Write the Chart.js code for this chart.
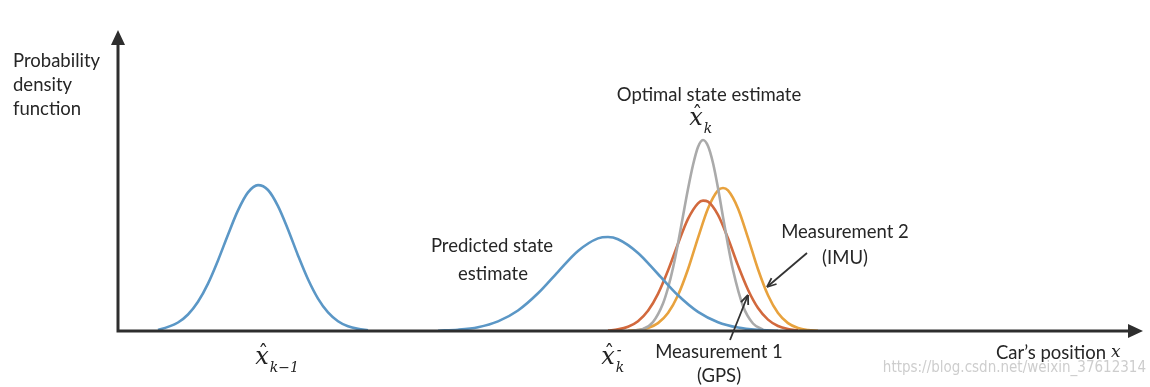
<!DOCTYPE html>
<html>
<head>
<meta charset="utf-8">
<script src="https://cdn.jsdelivr.net/npm/chart.js@4/dist/chart.umd.min.js"></script>
<style>
  body { margin: 0; background: #fff; }
  #wrap { width: 1150px; height: 387px; }
</style>
</head>
<body>
<div id="wrap"><canvas id="myChart"></canvas></div>
<script>
// samples: x = car position, y = probability density
const prevX   = [4, 5, 6, 7, 8, 9, 10, 11, 12, 13, 14, 15, 16, 17, 18, 19, 20, 21, 22, 23, 24, 25];
const prevPdf = [0.1, 0.41, 0.85, 1.65, 2.92, 4.74, 7.06, 9.63, 12.06, 13.86, 14.59, 14.1, 12.49, 10.15, 7.56, 5.17, 3.24, 1.86, 0.98, 0.47, 0.21, 0.08];

const predX   = [32, 34, 36, 38, 40, 42, 44, 46, 48, 49, 50, 52, 54, 56, 58, 60, 62, 64, 66];
const predPdf = [0.03, 0.13, 0.38, 0.96, 2.05, 3.77, 5.92, 8.0, 9.26, 9.4, 9.18, 7.81, 5.7, 3.57, 1.91, 0.88, 0.35, 0.12, 0.03];

const optX   = [51.5, 52.5, 53.5, 54.5, 55, 55.5, 56, 56.5, 57, 57.5, 58, 58.5, 59, 59.5, 60, 60.5, 61, 61.5, 62.5, 63.5, 64.5];
const optPdf = [0.03, 0.2, 0.9, 2.75, 4.3, 6.3, 8.75, 11.5, 14.2, 16.6, 18.4, 19.1, 18.5, 16.8, 14.3, 11.4, 8.6, 6.1, 2.5, 0.75, 0.15];

const gpsX   = [49, 50, 51, 52, 53, 54, 55, 56, 57, 58, 58.5, 59, 60, 61, 62, 63, 64, 65, 66, 67, 68];
const gpsPdf = [0.05, 0.16, 0.42, 0.98, 2.02, 3.71, 6.04, 8.73, 11.21, 12.77, 13.04, 12.93, 11.61, 9.27, 6.56, 4.13, 2.3, 1.14, 0.5, 0.2, 0.07];

const imuX   = [51, 52, 53, 54, 55, 56, 57, 58, 59, 60, 60.5, 61, 62, 63, 64, 65, 66, 67, 68, 69, 70];
const imuPdf = [0.03, 0.1, 0.3, 0.79, 1.8, 3.57, 6.17, 9.31, 12.26, 14.06, 14.3, 14.06, 12.26, 9.31, 6.17, 3.57, 1.8, 0.79, 0.3, 0.1, 0.03];

const curveNames  = ['Previous estimate', 'Predicted state estimate', 'Optimal state estimate', 'Measurement 1 (GPS)', 'Measurement 2 (IMU)'];
const curveColors = ['#5b97c6', '#5b97c6', '#aaaaaa', '#d2693d', '#e8a23d'];

const textColor = '#262626';
const axisColor = '#2e2e2e';
const labelFont = '18.5px Lato, "Open Sans", sans-serif';

function pts(xs, ys) {
  return xs.map((v, i) => ({ x: v, y: ys[i] }));
}

const series = [
  pts(prevX, prevPdf), pts(predX, predPdf), pts(optX, optPdf), pts(gpsX, gpsPdf), pts(imuX, imuPdf)
];

// x-hat with sub/superscript, drawn as text
function hatX(ctx, cx, cy, sub, sup) {
  ctx.fillStyle = '#222';
  ctx.textAlign = 'left';
  ctx.textBaseline = 'alphabetic';
  ctx.font = 'italic 24px "DejaVu Serif", serif';
  const w = ctx.measureText('x').width;
  const x0 = cx - w / 2 - 4;
  ctx.fillText('x', x0, cy);
  ctx.font = '20px "DejaVu Serif", serif';
  ctx.fillText('ˆ', x0 + 3, cy - 4);
  ctx.font = 'italic 14px "DejaVu Serif", serif';
  if (sub) ctx.fillText(sub, x0 + w + 1, cy + 8);
  if (sup) ctx.fillText(sup, x0 + w + 2, cy - 9);
}

const sketch = {
  id: 'sketch',
  afterDraw(chart) {
    const { ctx, chartArea: a, scales: { x, y } } = chart;
    const px = v => x.getPixelForValue(v);
    const py = v => y.getPixelForValue(v);
    ctx.save();

    // axes with arrowheads
    ctx.strokeStyle = axisColor;
    ctx.fillStyle = axisColor;
    ctx.lineWidth = 3;
    ctx.beginPath();
    ctx.moveTo(a.left, a.top + 12);
    ctx.lineTo(a.left, a.bottom);
    ctx.lineTo(a.right - 8, a.bottom);
    ctx.stroke();
    ctx.beginPath();
    ctx.moveTo(a.left, a.top);
    ctx.lineTo(a.left - 7, a.top + 15);
    ctx.lineTo(a.left + 7, a.top + 15);
    ctx.closePath();
    ctx.fill();
    ctx.beginPath();
    ctx.moveTo(a.right + 3, a.bottom);
    ctx.lineTo(a.right - 12, a.bottom - 7);
    ctx.lineTo(a.right - 12, a.bottom + 7);
    ctx.closePath();
    ctx.fill();

    // text labels
    ctx.fillStyle = textColor;
    ctx.font = labelFont;
    ctx.textBaseline = 'middle';
    ctx.textAlign = 'left';
    ['Probability', 'density', 'function'].forEach((t, i) => ctx.fillText(t, 13, 61 + i * 24));

    ctx.textAlign = 'center';
    ctx.fillText('Optimal state estimate', px(59.1), py(23.6));
    ctx.fillText('Predicted state', px(49.3 - 11.9), py(8.5));
    ctx.fillText('estimate', px(37.5), py(5.7));
    ctx.fillText('Measurement 2', px(72.7), py(9.9));
    ctx.fillText('(IMU)', px(72.7), py(7.3));
    ctx.fillText('Measurement 1', px(60.1), py(-2.1));
    ctx.fillText('(GPS)', px(60.1), py(-4.5));

    ctx.textAlign = 'right';
    ctx.fillText('Car\u2019s position', px(98.8), py(-2.2));
    ctx.font = 'italic 17px "DejaVu Serif", serif';
    ctx.textAlign = 'left';
    ctx.fillText('x', px(99.3), py(-2.2));

    // pointer arrows
    ctx.strokeStyle = '#333';
    ctx.lineWidth = 1.8;
    [[68.9, 7.8, 64.9, 4.4], [61.2, -0.9, 63.0, 3.6]].forEach(([x1, y1, x2, y2]) => {
      const X1 = px(x1), Y1 = py(y1), X2 = px(x2), Y2 = py(y2);
      const ang = Math.atan2(Y2 - Y1, X2 - X1);
      ctx.beginPath();
      ctx.moveTo(X1, Y1);
      ctx.lineTo(X2, Y2);
      ctx.stroke();
      ctx.beginPath();
      ctx.moveTo(X2, Y2);
      ctx.lineTo(X2 - 10 * Math.cos(ang - 0.4), Y2 - 10 * Math.sin(ang - 0.4));
      ctx.moveTo(X2, Y2);
      ctx.lineTo(X2 - 10 * Math.cos(ang + 0.4), Y2 - 10 * Math.sin(ang + 0.4));
      ctx.stroke();
    });

    // estimate symbols
    hatX(ctx, px(14.8), py(-3.3), 'k\u22121', null);
    hatX(ctx, px(49.4), py(-3.3), 'k', '-');
    hatX(ctx, px(58.2), py(20.6), 'k', null);

    // watermark
    ctx.fillStyle = 'rgba(200,200,200,0.9)';
    ctx.font = '15px "Liberation Sans Narrow", "DejaVu Sans Condensed", sans-serif';
    ctx.textAlign = 'right';
    ctx.textBaseline = 'middle';
    ctx.fillText('https://blog.csdn.net/weixin_37612314', 1146, 368);
    ctx.restore();
  }
};

const config = {
  type: 'line',
  data: {
    datasets: series.map((d, i) => ({
      label: curveNames[i],
      data: d,
      borderColor: curveColors[i],
      backgroundColor: curveColors[i],
      borderWidth: 2.6,
      pointRadius: 0,
      fill: false,
      cubicInterpolationMode: 'monotone'
    }))
  },
  options: {
    responsive: true,
    maintainAspectRatio: false,
    animation: false,
    layout: { padding: { left: 118, right: 10, top: 30, bottom: 56 } },
    plugins: { legend: { display: false }, tooltip: { enabled: false } },
    scales: {
      x: { type: 'linear', min: 0, max: 102.2, display: false },
      y: { min: 0, max: 30.1, display: false }
    }
  },
  plugins: [sketch]
};

var myChart = new Chart(document.getElementById('myChart'), config);
</script>
</body>
</html>
